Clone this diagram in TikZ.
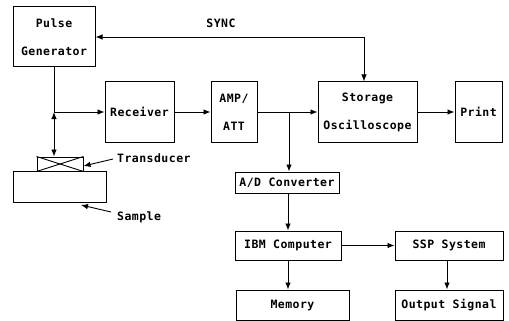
\documentclass[tikz,border=0pt]{standalone}
\usepackage{fontspec}
\usetikzlibrary{arrows.meta}
\newfontfamily\plotfont[LetterSpace=4]{DejaVu Sans Mono}
\tikzset{
  blk/.style={draw, line width=1pt, rectangle, inner sep=0pt, align=center,
    font=\plotfont\bfseries\fontsize{11.5}{13}\selectfont},
  lbl/.style={inner sep=0pt, font=\plotfont\bfseries\fontsize{11.5}{13}\selectfont},
  flow/.style={line width=0.9pt, -{Latex[length=7pt,width=5.5pt]}},
  both/.style={line width=0.9pt, {Latex[length=7pt,width=5.5pt]}-{Latex[length=7pt,width=5.5pt]}},
  plain/.style={line width=0.9pt},
}
\begin{document}
\begin{tikzpicture}[x=1pt,y=-1pt]
\useasboundingbox (0,0) rectangle (509,321);

% processing chain
\node[blk, minimum width=82pt, minimum height=60pt] (pg) at (54,37) {Pulse\\[15pt]Generator};
\node[blk, minimum width=69pt, minimum height=60pt] (rx) at (139.5,112) {Receiver};
\node[blk, minimum width=46pt, minimum height=60pt] (amp) at (234,112) {AMP/\\[15pt]ATT};
\node[blk, minimum width=99pt, minimum height=60pt] (osc) at (367.5,112) {Storage\\[15pt]Oscilloscope};
\node[blk, minimum width=47pt, minimum height=60pt] (prt) at (478.5,112) {Print};
\node[blk, minimum width=104pt, minimum height=21pt] (adc) at (287,182.5) {A/D Converter};
\node[blk, minimum width=106pt, minimum height=29pt] (ibm) at (288,245.5) {IBM Computer};
\node[blk, minimum width=113pt, minimum height=30pt] (mem) at (292.5,305) {Memory};
\node[blk, minimum width=108pt, minimum height=29pt] (ssp) at (449,245.5) {SSP System};
\node[blk, minimum width=108pt, minimum height=30pt] (out) at (449,305) {Output Signal};

% transducer on the sample
\node[draw, line width=1pt, minimum width=93pt, minimum height=31pt, inner sep=0pt] (smp) at (59.5,186.5) {};
\node[draw, line width=1pt, minimum width=46pt, minimum height=14pt, inner sep=0pt] (trd) at (60,164) {};
\draw[plain] (trd.north west) -- (trd.south east);
\draw[plain] (trd.south west) -- (trd.north east);

\node[lbl, anchor=west] (trdl) at (117,158) {Transducer};
\node[lbl, anchor=west] (smpl) at (117,217) {Sample};
\node[lbl] (sync) at (221,23) {SYNC};

% connectors
\coordinate (jn) at (pg.south |- rx.west);
\coordinate (tap) at (289,112);
\draw[plain] (pg.south) -- (jn);
\draw[flow] (jn) -- (rx.west);
\draw[both] (jn) -- (trd.north -| jn);
\draw[both] (pg.east |- 0,37) -| (osc.north -| 364,0);
\draw[flow] (rx) -- (amp);
\draw[flow] (amp) -- (osc);
\draw[flow] (osc) -- (prt);
\draw[flow] (tap) -- (tap |- adc.north);
\draw[flow] (adc.south -| 288,0) -- (ibm.north -| 288,0);
\draw[flow] (ibm.south -| 288,0) -- (mem.north -| 288,0);
\draw[flow] (ibm) -- (ssp);
\draw[flow] (ssp.south -| 447,0) -- (out.north -| 447,0);
\draw[flow] (trdl.west) ++(-4,1) -- (trd.east |- 0,166);
\draw[flow] (smpl.west) ++(-6,-5) -- (81,205);
\end{tikzpicture}
\end{document}
